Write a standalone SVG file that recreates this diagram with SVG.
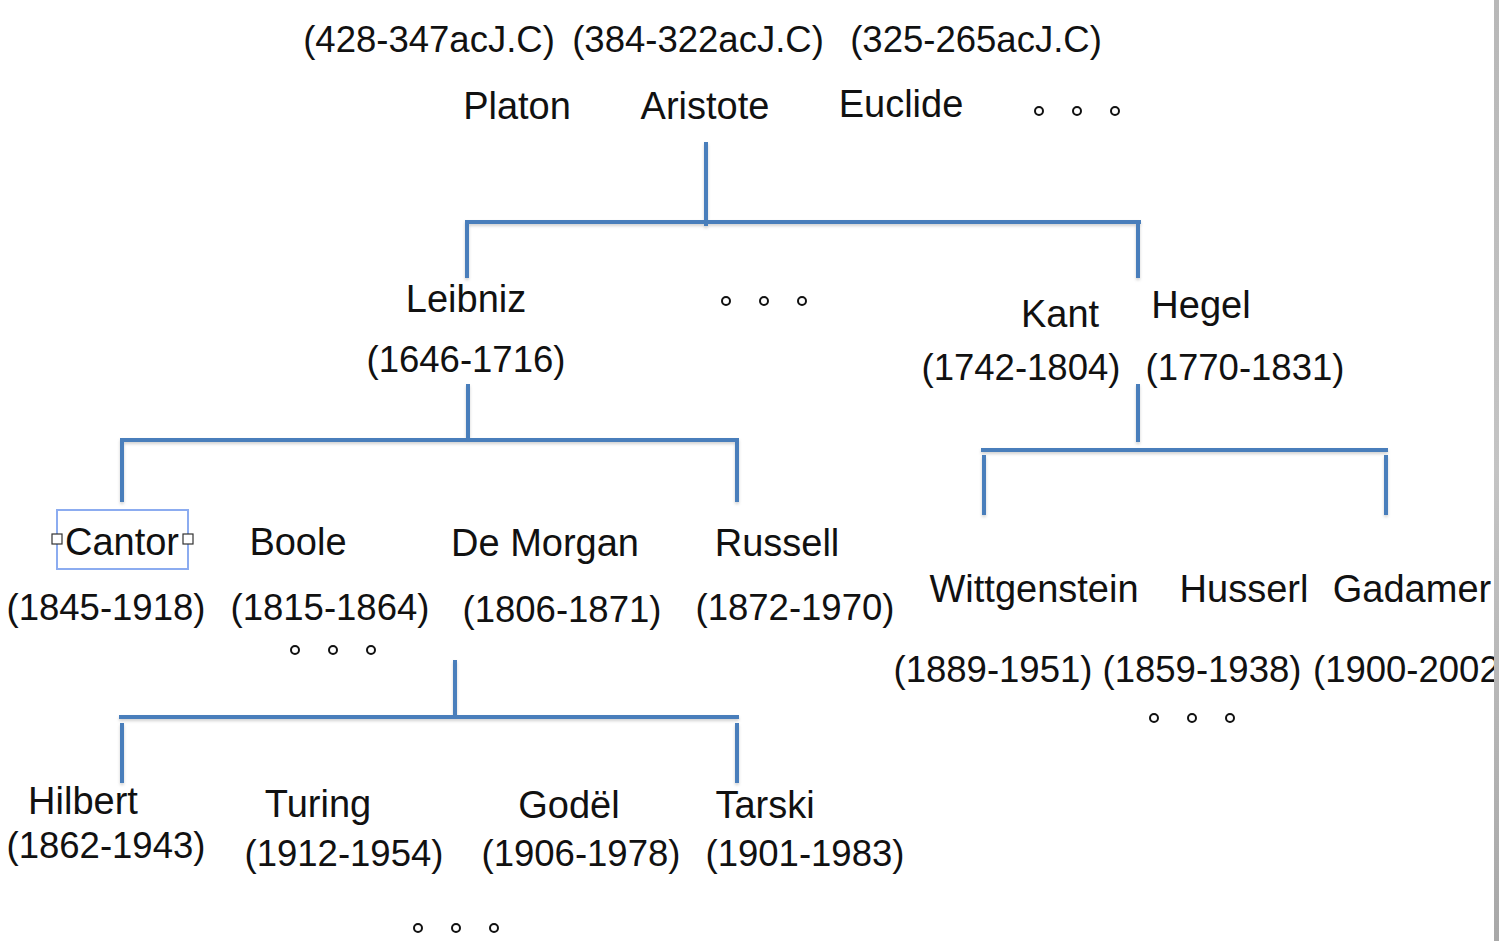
<svg xmlns="http://www.w3.org/2000/svg" width="1499" height="941" viewBox="0 0 1499 941">
<defs>
<style>
text{font-family:"Liberation Sans",Arial,sans-serif;fill:#111;text-anchor:middle}
.n{font-size:38px}
.d{font-size:36.5px}
.line{stroke:#4a7ebb;stroke-width:4;fill:none;filter:url(#sh)}
.dot{fill:none;stroke:#111;stroke-width:2}
</style>
<filter id="sh" x="-5%" y="-50%" width="110%" height="200%">
<feDropShadow dx="0" dy="2" stdDeviation="1.5" flood-color="#000" flood-opacity="0.18"/>
</filter>
<linearGradient id="edge" x1="0" y1="0" x2="0" y2="1">
<stop offset="0" stop-color="#b8b8b8"/>
<stop offset="0.5" stop-color="#c4c4c4"/>
<stop offset="1" stop-color="#a8a8a8"/>
</linearGradient>
</defs>
<rect width="1499" height="941" fill="#fff"/>

<g id="ancients">
<text class="d" x="429" y="52">(428-347acJ.C)</text>
<text class="d" x="698" y="52">(384-322acJ.C)</text>
<text class="d" x="976" y="52">(325-265acJ.C)</text>
<text class="n" x="517" y="119">Platon</text>
<text class="n" x="705" y="119">Aristote</text>
<text class="n" x="901" y="117">Euclide</text>
<circle class="dot" cx="1039" cy="111" r="4"/>
<circle class="dot" cx="1077" cy="111" r="4"/>
<circle class="dot" cx="1115" cy="111" r="4"/>
</g>

<g id="leibniz">
<text class="n" x="466" y="312">Leibniz</text>
<text class="d" x="466" y="372">(1646-1716)</text>
</g>
<g id="mid-dots">
<circle class="dot" cx="726" cy="301" r="4"/>
<circle class="dot" cx="764" cy="301" r="4"/>
<circle class="dot" cx="802" cy="301" r="4"/>
</g>
<g id="kant">
<text class="n" x="1060" y="327">Kant</text>
<text class="d" x="1021" y="380">(1742-1804)</text>
</g>
<g id="hegel">
<text class="n" x="1201" y="318">Hegel</text>
<text class="d" x="1245" y="380">(1770-1831)</text>
</g>

<g id="cantor">
<rect x="57" y="510" width="131" height="59" fill="none" stroke="#8cacf0" stroke-width="2"/>
<text class="n" x="122" y="555">Cantor</text>
<rect x="52" y="534" width="10" height="10" fill="#fff" stroke="#333" stroke-width="1.2"/>
<rect x="183" y="534" width="10" height="10" fill="#fff" stroke="#333" stroke-width="1.2"/>
<text class="d" x="106" y="620">(1845-1918)</text>
</g>
<g id="boole">
<text class="n" x="298" y="555">Boole</text>
<text class="d" x="330" y="620">(1815-1864)</text>
<circle class="dot" cx="295" cy="650" r="4"/>
<circle class="dot" cx="333" cy="650" r="4"/>
<circle class="dot" cx="371" cy="650" r="4"/>
</g>
<g id="demorgan">
<text class="n" x="545" y="556">De Morgan</text>
<text class="d" x="562" y="622">(1806-1871)</text>
</g>
<g id="russell">
<text class="n" x="777" y="556">Russell</text>
<text class="d" x="795" y="620">(1872-1970)</text>
</g>

<g id="wittgenstein">
<text class="n" x="1034" y="602">Wittgenstein</text>
<text class="d" x="993" y="682">(1889-1951)</text>
</g>
<g id="husserl">
<text class="n" x="1244" y="602">Husserl</text>
<text class="d" x="1202" y="682">(1859-1938)</text>
<circle class="dot" cx="1154" cy="718" r="4"/>
<circle class="dot" cx="1192" cy="718" r="4"/>
<circle class="dot" cx="1230" cy="718" r="4"/>
</g>
<g id="gadamer">
<text class="n" x="1412" y="602">Gadamer</text>
<text class="d" x="1313" y="682" style="text-anchor:start">(1900-2002</text>
</g>

<g id="hilbert">
<text class="n" x="83" y="814">Hilbert</text>
<text class="d" x="106" y="858">(1862-1943)</text>
</g>
<g id="turing">
<text class="n" x="318" y="817">Turing</text>
<text class="d" x="344" y="866">(1912-1954)</text>
</g>
<g id="godel">
<text class="n" x="569" y="818">Godël</text>
<text class="d" x="581" y="866">(1906-1978)</text>
</g>
<g id="tarski">
<text class="n" x="765" y="818">Tarski</text>
<text class="d" x="805" y="866">(1901-1983)</text>
</g>
<g id="bottom-dots">
<circle class="dot" cx="418" cy="928" r="4"/>
<circle class="dot" cx="456" cy="928" r="4"/>
<circle class="dot" cx="494" cy="928" r="4"/>
</g>

<g id="connectors">
<path class="line" d="M706,142 V226 M465,222 H1141 M467,222 V278 M1138,220 V278"/>
<path class="line" d="M468,384 V440 M120,440 H739 M122,440 V502 M737,440 V502"/>
<path class="line" d="M1138,384 V442 M981,450 H1388 M984,455 V515 M1386,455 V515"/>
<path class="line" d="M455,660 V718 M119,717 H739 M122,723 V783 M737,723 V783"/>
</g>

<rect x="1494" y="0" width="5" height="941" fill="url(#edge)"/>
</svg>
